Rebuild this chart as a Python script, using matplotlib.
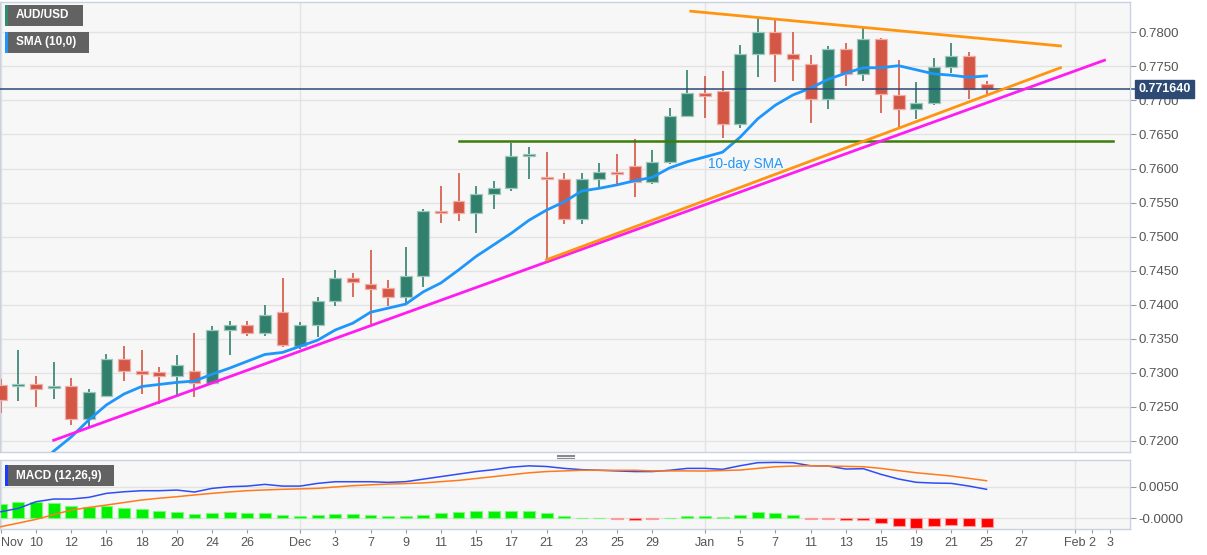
import matplotlib.pyplot as plt
from matplotlib.patches import Rectangle
from matplotlib.lines import Line2D
import numpy as np

plt.rcParams['font.family'] = ['Liberation Sans', 'DejaVu Sans']

# AUD/USD daily bars, Nov 6 2020 -> Jan 25 2021 (weekdays only, x = bar number)
opens = [0.7282, 0.7281, 0.7283, 0.7278, 0.7280, 0.7232, 0.7266, 0.7320, 0.7302, 0.7301,
         0.7296, 0.7303, 0.7285, 0.7363, 0.7370, 0.7358, 0.7389, 0.7340, 0.7370, 0.7405,
         0.7440, 0.7431, 0.7424, 0.7411, 0.7442, 0.7537, 0.7552, 0.7534, 0.7562, 0.7572,
         0.7619, 0.7588, 0.7585, 0.7526, 0.7585, 0.7595, 0.7603, 0.7580, 0.7610, 0.7677,
         0.7711, 0.7714, 0.7665, 0.7768, 0.7800, 0.7768, 0.7753, 0.7702, 0.7775, 0.7739,
         0.7790, 0.7708, 0.7687, 0.7696, 0.7749, 0.7765, 0.7724]
highs = [0.7291, 0.7333, 0.7296, 0.7316, 0.7293, 0.7276, 0.7327, 0.7339, 0.7333, 0.7308,
         0.7326, 0.7358, 0.7369, 0.7376, 0.7376, 0.7400, 0.7439, 0.7374, 0.7411, 0.7451,
         0.7446, 0.7480, 0.7437, 0.7485, 0.7540, 0.7574, 0.7593, 0.7574, 0.7582, 0.7638,
         0.7631, 0.7625, 0.7594, 0.7594, 0.7608, 0.7621, 0.7643, 0.7627, 0.7689, 0.7745,
         0.7736, 0.7743, 0.7781, 0.7821, 0.7818, 0.7800, 0.7767, 0.7780, 0.7784, 0.7808,
         0.7792, 0.7759, 0.7727, 0.7763, 0.7784, 0.7771, 0.7728]
lows = [0.7241, 0.7259, 0.7250, 0.7262, 0.7223, 0.7220, 0.7266, 0.7288, 0.7269, 0.7255,
        0.7267, 0.7264, 0.7283, 0.7326, 0.7354, 0.7354, 0.7338, 0.7335, 0.7353, 0.7398,
        0.7411, 0.7371, 0.7398, 0.7402, 0.7426, 0.7520, 0.7523, 0.7506, 0.7540, 0.7567,
        0.7584, 0.7465, 0.7518, 0.7518, 0.7572, 0.7574, 0.7558, 0.7577, 0.7607, 0.7676,
        0.7674, 0.7645, 0.7659, 0.7734, 0.7727, 0.7728, 0.7667, 0.7687, 0.7721, 0.7729,
        0.7681, 0.7659, 0.7672, 0.7693, 0.7740, 0.7702, 0.7709]
closes = [0.7260, 0.7282, 0.7277, 0.7280, 0.7232, 0.7272, 0.7320, 0.7302, 0.7299, 0.7296,
          0.7311, 0.7285, 0.7363, 0.7370, 0.7358, 0.7385, 0.7341, 0.7370, 0.7405, 0.7440,
          0.7433, 0.7423, 0.7411, 0.7442, 0.7537, 0.7534, 0.7534, 0.7562, 0.7571, 0.7619,
          0.7621, 0.7585, 0.7526, 0.7585, 0.7595, 0.7592, 0.7580, 0.7610, 0.7677, 0.7711,
          0.7707, 0.7665, 0.7768, 0.7800, 0.7768, 0.7761, 0.7702, 0.7775, 0.7739, 0.7790,
          0.7709, 0.7687, 0.7696, 0.7749, 0.7765, 0.7717, 0.77164]

sma10 = [np.nan, np.nan, 0.7163, 0.7185, 0.7206, 0.7231, 0.7253, 0.7269, 0.7280, 0.7283,
         0.7286, 0.7288, 0.7298, 0.7307, 0.7317, 0.7327, 0.7330, 0.7339, 0.7348, 0.7363,
         0.7373, 0.7389, 0.7395, 0.7401, 0.7419, 0.7432, 0.7451, 0.7471, 0.7488, 0.7505,
         0.7524, 0.7539, 0.7551, 0.7567, 0.7571, 0.7576, 0.7582, 0.7587, 0.7601, 0.7610,
         0.7617, 0.7624, 0.7646, 0.7673, 0.7693, 0.7708, 0.7718, 0.7731, 0.7740, 0.7748,
         0.7748, 0.7751, 0.7745, 0.7739, 0.7737, 0.7734, 0.7736]

macd = [0.00104, 0.00158, 0.00263, 0.00305, 0.00305, 0.00332, 0.00395, 0.00420, 0.00437, 0.00437,
        0.00447, 0.00416, 0.00474, 0.00500, 0.00510, 0.00537, 0.00510, 0.00510, 0.00553, 0.00579,
        0.00579, 0.00579, 0.00569, 0.00580, 0.00620, 0.00660, 0.00700, 0.00740, 0.00770, 0.00810,
        0.00830, 0.00820, 0.00790, 0.00770, 0.00760, 0.00750, 0.00740, 0.00740, 0.00760, 0.00790,
        0.00790, 0.00775, 0.00832, 0.00880, 0.00885, 0.00880, 0.00832, 0.00827, 0.00780, 0.00785,
        0.00696, 0.00622, 0.00570, 0.00558, 0.00553, 0.00510, 0.00459]
signal = [-0.00133, -0.00075, -0.00016, 0.00058, 0.00131, 0.00172, 0.00210, 0.00250, 0.00290, 0.00318,
          0.00342, 0.00370, 0.00395, 0.00418, 0.00437, 0.00449, 0.00459, 0.00466, 0.00474, 0.00496,
          0.00516, 0.00530, 0.00542, 0.00550, 0.00560, 0.00580, 0.00600, 0.00630, 0.00660, 0.00690,
          0.00720, 0.00740, 0.00750, 0.00760, 0.00760, 0.00760, 0.00760, 0.00750, 0.00750, 0.00750,
          0.00748, 0.00756, 0.00764, 0.00790, 0.00816, 0.00826, 0.00832, 0.00827, 0.00822, 0.00816,
          0.00790, 0.00755, 0.00721, 0.00695, 0.00669, 0.00632, 0.00595]
hist = [0.00226, 0.00258, 0.00263, 0.00247, 0.00200, 0.00179, 0.00195, 0.00168, 0.00147, 0.00120,
        0.00100, 0.00068, 0.00089, 0.00100, 0.00084, 0.00084, 0.00053, 0.00037, 0.00047, 0.00068,
        0.00068, 0.00053, 0.00032, 0.00030, 0.00050, 0.00080, 0.00100, 0.00110, 0.00110, 0.00120,
        0.00110, 0.00080, 0.00040, 0.00010, 0.00000, -0.00010, -0.00020, -0.00010, 0.00010, 0.00030,
        0.00037, 0.00016, 0.00053, 0.00095, 0.00079, 0.00058, -0.00003, -0.00003, -0.00032, -0.00021,
        -0.00069, -0.00121, -0.00148, -0.00121, -0.00106, -0.00121, -0.00132]

tick_pos = [0, 2, 4, 6, 8, 10, 12, 14, 17, 19, 21, 23, 25, 27, 29, 31, 33, 35, 37,
            40, 42, 44, 46, 48, 50, 52, 54, 56, 58, 61, 62, 63]
tick_lbl = ['Nov', '10', '12', '16', '18', '20', '24', '26', 'Dec', '3', '7', '9', '11', '15',
            '17', '21', '23', '25', '29', 'Jan', '5', '7', '11', '13', '15', '19', '21', '25',
            '27', 'Feb', '2', '3']
month_pos = [0, 17, 40, 61]

# hand drawn lines (x = bar number, y = price)
support_x, support_y = [3.0, 62.7], [0.7201, 0.7759]
rising_x, rising_y = [31.0, 60.2], [0.7466, 0.7748]
falling_x, falling_y = [39.2, 60.2], [0.7831, 0.7780]
level_x, level_y = [26.0, 63.2], [0.7641, 0.7641]
last_price = 0.771640

GREEN, RED = '#31806d', '#d45745'
BORDER = '#c9d1e2'
GRID = '#e3e3e3'
W, H = 1207, 555

fig = plt.figure(figsize=(W / 100, H / 100), dpi=100, facecolor='white')
ax = fig.add_axes([0, (H - 452) / H, 1130 / W, 450 / H])
ax2 = fig.add_axes([0, (H - 529) / H, 1130 / W, 68.7 / H])

x = np.arange(len(closes))
xlim = (-0.05, 64.15)

for a in (ax, ax2):
    a.set_facecolor('#f7f7f7')
    a.set_xlim(*xlim)
    for s in a.spines.values():
        s.set_color(BORDER)
        s.set_linewidth(1)
    a.yaxis.tick_right()
    a.tick_params(axis='y', length=4, color='#999999', labelcolor='#555555',
                  labelsize=9.5, pad=2)
    for m in month_pos:
        a.axvline(m, color=GRID, lw=1, zorder=0)

# ---- price panel
ax.set_ylim(0.71838, 0.78445)
yt = np.arange(0.72, 0.7801, 0.005)
ax.set_yticks(yt)
ax.set_yticklabels(['%.4f' % v for v in yt])
for v in yt:
    ax.axhline(v, color=GRID, lw=1, zorder=0)
ax.set_xticks([])

o, h, l, c = map(np.array, (opens, highs, lows, closes))
up = c >= o
cols = np.where(up, GREEN, RED)
edges = np.where(up, '#9fc8bd', '#f0aea6')
body_lo = np.minimum(o, c)
body_h = np.maximum(np.abs(c - o), 0.00028)
ax.vlines(x, l, h, colors=cols, lw=1.2, zorder=2)
ax.bar(x, body_h, bottom=body_lo, width=0.68, color=cols, edgecolor=edges,
       linewidth=0.9, zorder=3)

ax.plot(x, sma10, color='#1e96fa', lw=2, zorder=4, solid_joinstyle='round')
ax.plot(level_x, level_y, color='#3f7d0a', lw=1.8, zorder=4)
ax.plot(support_x, support_y, color='#ff1cf0', lw=2, zorder=5)
ax.plot(rising_x, rising_y, color='#ff9410', lw=2, zorder=5)
ax.plot(falling_x, falling_y, color='#ff9410', lw=2, zorder=5)
ax.axhline(last_price, color='#2c4a74', lw=1.1, zorder=4)
ax.text(40.2, 0.76065, '10-day SMA', color='#1e96fa', fontsize=9.8, va='center', ha='left',
        zorder=6)

ax.annotate('0.771640', xy=(1.0, last_price), xycoords=('axes fraction', 'data'),
            xytext=(6, 0), textcoords='offset points', ha='left', va='center',
            color='white', fontsize=9, fontweight='bold',
            bbox=dict(boxstyle='square,pad=0.25', fc='#2c4a74', ec='#2c4a74'),
            annotation_clip=False, zorder=10)
ax.plot([1.0, 1.004], [last_price, last_price], color='#2c4a74', lw=1.1,
        transform=ax.get_yaxis_transform(), clip_on=False)

# ---- MACD panel
ax2.set_ylim(-0.00169, 0.00918)
ax2.set_yticks([0.0, 0.005])
ax2.set_yticklabels(['-0.0000', '0.0050'])
for v in (0.0, 0.005):
    ax2.axhline(v, color=GRID, lw=1, zorder=0)
hc = np.where(np.array(hist) >= 0, '#00f000', '#ff0000')
he = np.where(np.array(hist) >= 0, '#7dfa7d', '#ff9a9a')
ax2.bar(x, hist, width=0.68, color=hc, edgecolor=he, linewidth=0.8, zorder=2)
ax2.plot(x, macd, color='#2f4cf5', lw=1.1, zorder=3)
ax2.plot(x, signal, color='#ff7a1a', lw=1.1, zorder=3)
ax2.set_xticks(tick_pos)
ax2.set_xticklabels(tick_lbl)
ax2.tick_params(axis='x', length=3, color='#999999', labelcolor='#555555',
                labelsize=9, pad=3)
ax2.get_xticklabels()[0].set_horizontalalignment('left')


# ---- label boxes (pixel coords from the top left)
def label_box(x0, y0, x1, y1, strip, text):
    fig.add_artist(Rectangle((x0 / W, 1 - y1 / H), (x1 - x0) / W, (y1 - y0) / H,
                             transform=fig.transFigure, fc='#626262', ec='none', zorder=20))
    fig.add_artist(Rectangle((x0 / W, 1 - y1 / H), 2.5 / W, (y1 - y0) / H,
                             transform=fig.transFigure, fc=strip, ec='none', zorder=21))
    fig.text((x0 + 11) / W, 1 - (y0 + y1) / 2 / H, text, color='white', fontsize=8.5,
             fontweight='bold', va='center', ha='left', zorder=22)


label_box(5, 5, 83, 26, '#2e8b72', 'AUD/USD')
label_box(5, 32, 89, 53, '#1e96fa', 'SMA (10,0)')
label_box(5, 465, 114, 486, '#1a3cff', 'MACD (12,26,9)')

# small drag handle between the panels
for yy in (454.5, 456.3, 458.1):
    fig.add_artist(Line2D([557 / W, 574 / W], [1 - yy / H, 1 - yy / H],
                          transform=fig.transFigure, color='#8a8a8a', lw=0.8))

fig.savefig('out.png', dpi=100, facecolor='white')
